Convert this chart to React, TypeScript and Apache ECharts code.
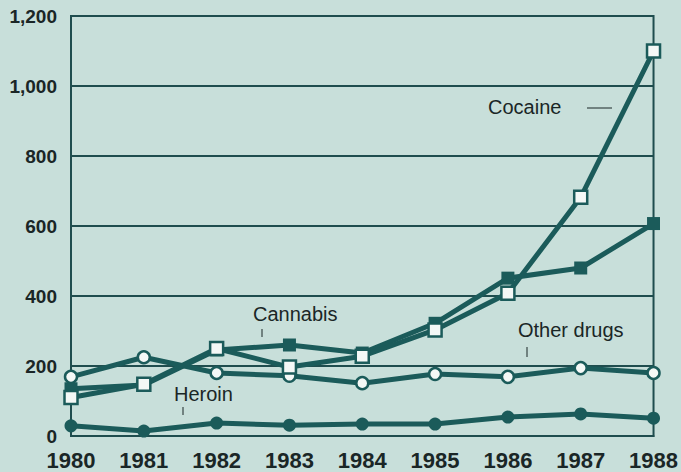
import React, { useEffect, useRef } from "react";
import * as echarts from "echarts";

const years = ["1980", "1981", "1982", "1983", "1984", "1985", "1986", "1987", "1988"];
const cocaine = [110, 148, 250, 197, 228, 303, 408, 682, 1100];
const cannabis = [135, 146, 246, 260, 237, 322, 451, 480, 607];
const otherDrugs = [169, 225, 180, 172, 151, 177, 169, 194, 180];
const heroin = [29, 14, 37, 31, 34, 34, 54, 63, 51];
const yTicks = [0, 200, 400, 600, 800, 1000, 1200];

const BG = "#c8dfda";
const LINE = "#1b5b5a";
const GRID = "#1f4d4e";
const TXT = "#1a2626";
const FONT = "Liberation Sans, Arial, sans-serif";

export default function App() {
  const ref = useRef<HTMLDivElement>(null);
  useEffect(() => {
    const chart = echarts.init(ref.current!, null, { renderer: "svg" });
    const mk = (name: string, data: number[], symbol: string, open: boolean, size: number) => ({
      name,
      type: "line",
      data,
      symbol,
      symbolSize: size,
      lineStyle: { color: LINE, width: 5 },
      itemStyle: {
        color: open ? "#f4f8f6" : LINE,
        borderColor: LINE,
        borderWidth: open ? 2.5 : 0,
      },
      z: 3,
    });
    chart.setOption({
      animation: false,
      backgroundColor: BG,
      textStyle: { fontFamily: FONT },
      grid: {
        left: 71,
        right: 26,
        top: 16,
        bottom: 36,
        show: true,
        borderColor: GRID,
        borderWidth: 2,
        backgroundColor: "transparent",
      },
      xAxis: {
        type: "category",
        data: years,
        boundaryGap: false,
        axisLine: { show: true, lineStyle: { color: GRID, width: 2 } },
        axisTick: { show: false },
        axisLabel: { color: TXT, fontSize: 22, fontWeight: "bold", margin: 13, fontFamily: FONT },
        splitLine: { show: false },
      },
      yAxis: {
        type: "value",
        min: 0,
        max: 1200,
        interval: 200,
        axisLine: { show: true, lineStyle: { color: GRID, width: 2 } },
        axisTick: { show: false },
        axisLabel: {
          color: TXT,
          fontSize: 19,
          fontWeight: "bold",
          margin: 14,
          fontFamily: FONT,
          formatter: (v: number) => (yTicks.includes(v) ? v.toLocaleString("en-US") : ""),
        },
        splitLine: { show: true, lineStyle: { color: GRID, width: 2 } },
      },
      series: [
        mk("Heroin", heroin, "circle", false, 13),
        mk("Other drugs", otherDrugs, "circle", true, 12),
        mk("Cannabis", cannabis, "rect", false, 13),
        mk("Cocaine", cocaine, "rect", true, 13),
      ],
      graphic: [
        { type: "text", left: 488, top: 97, style: { text: "Cocaine", fontSize: 20, fill: TXT, fontFamily: FONT } },
        { type: "line", shape: { x1: 587, y1: 108, x2: 612, y2: 108 }, style: { stroke: TXT, lineWidth: 1 } },
        { type: "text", left: 253, top: 304, style: { text: "Cannabis", fontSize: 20, fill: TXT, fontFamily: FONT } },
        { type: "line", shape: { x1: 262, y1: 329, x2: 262, y2: 337 }, style: { stroke: TXT, lineWidth: 1 } },
        { type: "text", left: 174, top: 384, style: { text: "Heroin", fontSize: 20, fill: TXT, fontFamily: FONT } },
        { type: "line", shape: { x1: 183, y1: 407, x2: 183, y2: 415 }, style: { stroke: TXT, lineWidth: 1 } },
        { type: "text", left: 518, top: 320, style: { text: "Other drugs", fontSize: 20, fill: TXT, fontFamily: FONT } },
        { type: "line", shape: { x1: 527, y1: 347, x2: 527, y2: 357 }, style: { stroke: TXT, lineWidth: 1 } },
      ],
    });
    return () => chart.dispose();
  }, []);
  return <div ref={ref} style={{ width: 681, height: 472, position: "fixed", left: 0, top: 0 }} />;
}
